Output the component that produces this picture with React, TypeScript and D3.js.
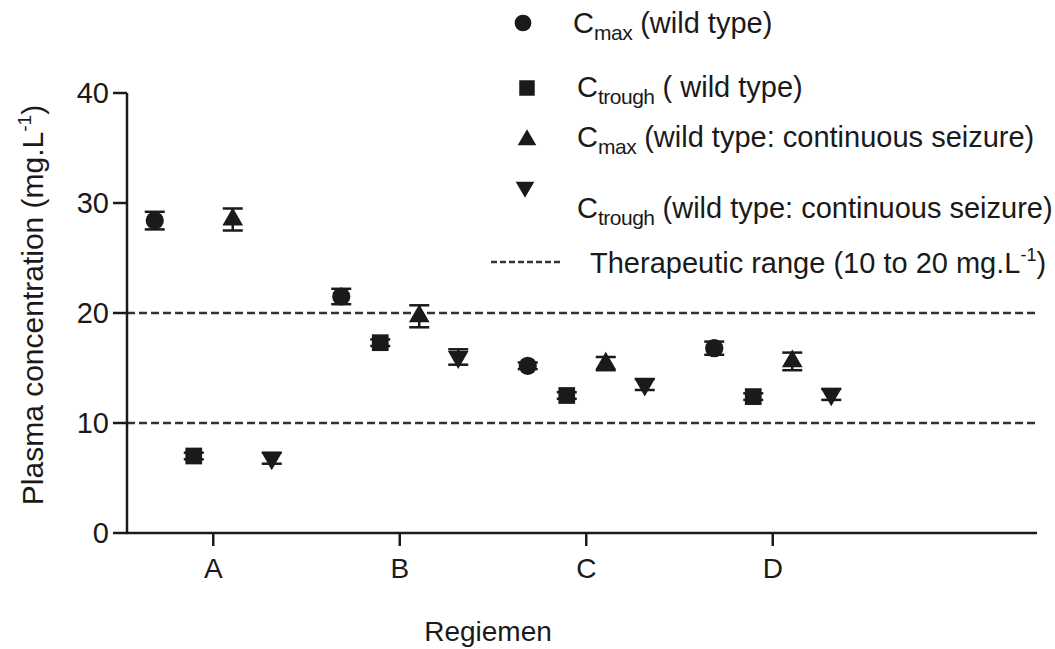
import React from "react";
import * as d3 from "d3";

const regimens = ["A", "B", "C", "D"];
const yTicks = [0, 10, 20, 30, 40];
const therapeuticRange = [10, 20];

const cmaxWild = [28.4, 21.5, 15.2, 16.8];
const cmaxWildErr = [0.8, 0.7, 0.3, 0.6];
const troughWild = [7.0, 17.3, 12.5, 12.4];
const troughWildErr = [0.3, 0.3, 0.3, 0.3];
const cmaxSeizure = [28.5, 19.7, 15.4, 15.6];
const cmaxSeizureErr = [1.0, 1.0, 0.6, 0.8];
const troughSeizure = [6.8, 16.0, 13.5, 12.6];
const troughSeizureErr = [0.5, 0.7, 0.5, 0.5];

const series = [
  { key: "cmaxWild", main: "C", sub: "max", rest: " (wild type)", values: cmaxWild, err: cmaxWildErr, shape: d3.symbolCircle, rotate: 0 },
  { key: "troughWild", main: "C", sub: "trough", rest: " ( wild type)", values: troughWild, err: troughWildErr, shape: d3.symbolSquare, rotate: 0 },
  { key: "cmaxSeizure", main: "C", sub: "max", rest: " (wild type: continuous seizure)", values: cmaxSeizure, err: cmaxSeizureErr, shape: d3.symbolTriangle, rotate: 0 },
  { key: "troughSeizure", main: "C", sub: "trough", rest: " (wild type: continuous seizure)", values: troughSeizure, err: troughSeizureErr, shape: d3.symbolTriangle, rotate: 180 },
];

const width = 1055;
const height = 649;
const font = "Liberation Sans, Arial, sans-serif";
const ink = "#1a1a1a";

export default function App() {
  const x = d3.scaleBand().domain(regimens).range([120, 866]);
  const inner = d3
    .scaleBand()
    .domain(series.map((s) => s.key))
    .range([-78, 78]);
  const y = d3.scaleLinear().domain([0, 40]).range([533, 93]);
  const axisLeft = 127;
  const axisRight = 1037;

  const symbolPath = (shape: any, size: number) => d3.symbol().type(shape).size(size)() as string;
  const symSize = (s: any) => (s.shape === d3.symbolCircle ? 260 : s.shape === d3.symbolSquare ? 280 : 185);
  const legSize = (s: any) => (s.shape === d3.symbolCircle ? 220 : s.shape === d3.symbolSquare ? 240 : 150);

  const legendRows = [
    { mark: [523, 23], text: [573, 33] },
    { mark: [527, 88], text: [577, 97] },
    { mark: [527, 140], text: [577, 147] },
    { mark: [525, 187], text: [577, 218] },
  ];

  return (
    <div style={{ position: "absolute", left: 0, top: 0 }}>
      <svg width={width} height={height} style={{ display: "block", background: "#fff" }} fontFamily={font}>
        {/* therapeutic range lines */}
        {therapeuticRange.map((v) => (
          <line key={v} x1={axisLeft} x2={axisRight} y1={y(v)} y2={y(v)} stroke="#333" strokeWidth={2.5} strokeDasharray="8,4" />
        ))}

        {/* y axis */}
        <line x1={axisLeft} x2={axisLeft} y1={y(40)} y2={y(0)} stroke={ink} strokeWidth={2.5} />
        {yTicks.map((t) => (
          <g key={t}>
            <line x1={axisLeft - 14} x2={axisLeft} y1={y(t)} y2={y(t)} stroke={ink} strokeWidth={2.5} />
            <text x={axisLeft - 18} y={y(t)} dy="0.35em" textAnchor="end" fontSize={29} fill={ink}>
              {t}
            </text>
          </g>
        ))}
        <text transform={`translate(32,305) rotate(-90)`} textAnchor="middle" fontSize={30} fill={ink} dy="0.35em">
          Plasma concentration (mg.L
          <tspan fontSize={19} dy="-12">-1</tspan>
          <tspan dy="12">)</tspan>
        </text>

        {/* x axis */}
        <line x1={axisLeft - 1} x2={axisRight} y1={y(0)} y2={y(0)} stroke={ink} strokeWidth={2.5} />
        {regimens.map((r) => {
          const cx = (x(r) as number) + x.bandwidth() / 2;
          return (
            <g key={r}>
              <line x1={cx} x2={cx} y1={y(0)} y2={y(0) + 13} stroke={ink} strokeWidth={2.5} />
              <text x={cx} y={578} textAnchor="middle" fontSize={28} fill={ink}>
                {r}
              </text>
            </g>
          );
        })}
        <text x={488} y={641} textAnchor="middle" fontSize={28} fill={ink}>
          Regiemen
        </text>

        {/* points with error bars */}
        {series.map((s) =>
          s.values.map((v, i) => {
            const cx = (x(regimens[i]) as number) + x.bandwidth() / 2 + (inner(s.key) as number) + inner.bandwidth() / 2;
            const hi = y(v + s.err[i]);
            const lo = y(v - s.err[i]);
            return (
              <g key={s.key + i}>
                <line x1={cx} x2={cx} y1={hi} y2={lo} stroke={ink} strokeWidth={2.5} />
                <line x1={cx - 10} x2={cx + 10} y1={hi} y2={hi} stroke={ink} strokeWidth={2.5} />
                <line x1={cx - 10} x2={cx + 10} y1={lo} y2={lo} stroke={ink} strokeWidth={2.5} />
                <path d={symbolPath(s.shape, symSize(s))} transform={`translate(${cx},${y(v)}) rotate(${s.rotate})`} fill={ink} />
              </g>
            );
          })
        )}

        {/* legend */}
        {series.map((s, i) => {
          const row = legendRows[i];
          return (
            <g key={s.key}>
              <path d={symbolPath(s.shape, legSize(s))} transform={`translate(${row.mark[0]},${row.mark[1]}) rotate(${s.rotate})`} fill={ink} />
              <text x={row.text[0]} y={row.text[1]} fontSize={29} fill={ink}>
                {s.main}
                <tspan fontSize={21} dy="7" letterSpacing="-0.5">{s.sub}</tspan>
                <tspan dy="-7">{s.rest}</tspan>
              </text>
            </g>
          );
        })}
        <line x1={491} x2={561} y1={262} y2={262} stroke="#333" strokeWidth={2.5} strokeDasharray="6,3" />
        <text x={590} y={273} fontSize={29} fill={ink}>
          Therapeutic range (10 to 20 mg.L
          <tspan fontSize={18} dy="-12">-1</tspan>
          <tspan dy="12">)</tspan>
        </text>
      </svg>
    </div>
  );
}
